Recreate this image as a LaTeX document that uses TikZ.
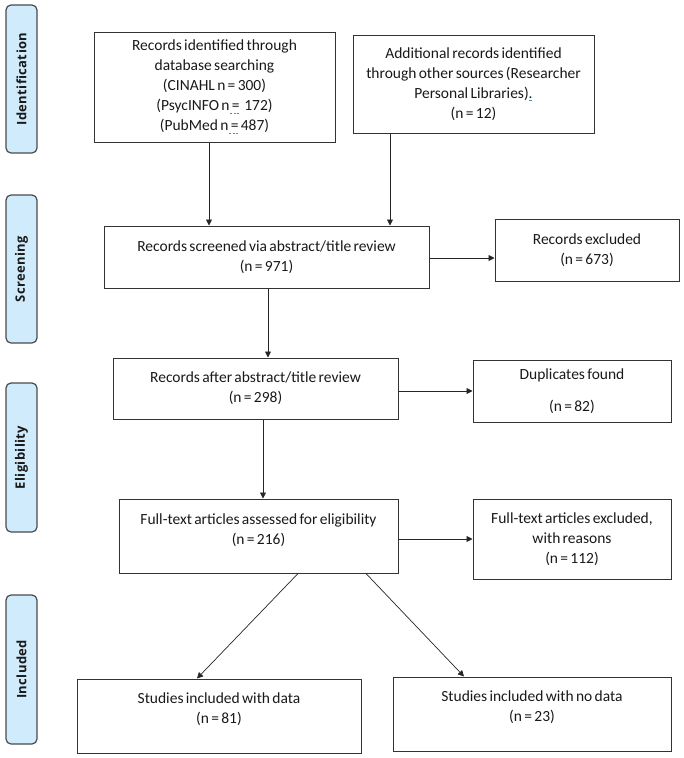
\documentclass[tikz,border=0pt]{standalone}
\usepackage{fontspec}
\setmainfont{Carlito}
\newfontfamily\labfont[LetterSpace=3]{Open Sans Bold}
\usetikzlibrary{arrows.meta}
\definecolor{labfill}{HTML}{CFEBFC}
\definecolor{labdraw}{HTML}{4A4A4A}
\definecolor{boxdraw}{HTML}{333333}
\definecolor{sqcol}{HTML}{2F9AC0}
\newcommand\boxfnt{\fontsize{15.5}{20}\selectfont\spaceskip=0.15em plus 0.04em minus 0.02em\relax}
\newsavebox\sqbox
\newlength\sqlen
\newcommand\sq[1]{\sbox\sqbox{#1}\setlength\sqlen{\wd\sqbox}\rlap{\color{sqcol}\raisebox{-3pt}{\leaders\hbox to 3.5pt{\hss\rule{2.2pt}{1pt}\hss}\hskip\sqlen}}\usebox\sqbox}
\tikzset{
  stage/.style={draw=labdraw, line width=1.2pt, fill=labfill, rounded corners=5pt, inner sep=0pt},
  stagetext/.style={rotate=90, font=\labfont\fontsize{13}{15}\selectfont, text=black!90},
  box/.style={draw=boxdraw, line width=1pt, align=center, inner sep=0pt, font=\boxfnt, text=black!90},
  arr/.style={draw=black!85, line width=0.9pt, -{Triangle[length=6pt,width=6pt]}},
}
\begin{document}
\begin{tikzpicture}[x=1pt,y=-1pt]
\useasboundingbox (0,0) rectangle (684,758);
% stage labels
\draw[stage] (6,5) rectangle (37,153);
\node[stagetext] (s1) at (21.5,79) {Identification};
\draw[stage] (6,195) rectangle (37,343);
\node[stagetext] (s2) at (21.5,269) {Screening};
\draw[stage] (6,383) rectangle (37,532);
\node[stagetext] (s3) at (21.5,457.5) {Eligibility};
\draw[stage] (6,595) rectangle (37,744);
\node[stagetext] (s4) at (21.5,669.5) {Included};
% boxes
\node[box, minimum width=241pt, minimum height=110pt] (b1) at (214.5,87)
  {Records identified through\\database searching\\(CINAHL n = 300)\\(PsycINFO n\sq{\ =\ }\ 172)\\(PubMed n\sq{\ =\ }487)};
\node[box, minimum width=241pt, minimum height=98pt] (b2) at (473.5,84)
  {Additional records identified\\through other sources\sq{\ }(Researcher\\Personal Libraries)\sq{.}\\(n = 12)};
\node[box, minimum width=325pt, minimum height=62pt] (b3) at (266.5,257)
  {Records screened via abstract/title review\\(n = 971)};
\node[box, minimum width=184pt, minimum height=62pt] (b4) at (587,250)
  {Records excluded\\(n = 673)};
\node[box, minimum width=285pt, minimum height=61pt] (b5) at (255.5,388.5)
  {Records after abstract/title review\\(n = 298)};
\node[box, minimum width=198pt, minimum height=62pt] (b6) at (572,391)
  {Duplicates found\\[12pt](n = 82)};
\node[box, minimum width=279pt, minimum height=74pt] (b7) at (258.5,536)
  {Full-text articles assessed for eligibility\\(n = 216)\\[-7pt]\mbox{}};
\node[box, minimum width=198pt, minimum height=80pt] (b8) at (572,539)
  {Full-text articles excluded,\\with reasons\\(n = 112)};
\node[box, minimum width=284pt, minimum height=74pt] (b9) at (219,716)
  {Studies included with data\\(n = 81)\\[-4pt]\mbox{}};
\node[box, minimum width=278pt, minimum height=74pt] (b10) at (532,714)
  {Studies included with no data\\(n = 23)\\[-4pt]\mbox{}};
% connector guides
\coordinate (g1) at (209,0);
\coordinate (g2) at (390,0);
\coordinate (g3) at (268,0);
\coordinate (g5) at (263,0);
\coordinate (h3) at (0,258);
\coordinate (h5) at (0,391);
\coordinate (h7) at (0,539);
\coordinate (d1s) at (298,573);
\coordinate (d1e) at (197,679);
\coordinate (d2s) at (366,573);
\coordinate (d2e) at (464,677);
% connectors
\draw[arr] (b1.south -| g1) -- (b3.north -| g1);
\draw[arr] (b2.south -| g2) -- (b3.north -| g2);
\draw[arr] (b3.east |- h3) -- (b4.west |- h3);
\draw[arr] (b3.south -| g3) -- (b5.north -| g3);
\draw[arr] (b5.east |- h5) -- (b6.west |- h5);
\draw[arr] (b5.south -| g5) -- (b7.north -| g5);
\draw[arr] (b7.east |- h7) -- (b8.west |- h7);
\draw[arr, line width=0.7pt] (b7.south -| d1s) -- (b9.north -| d1e);
\draw[arr, line width=0.7pt] (b7.south -| d2s) -- (b10.north -| d2e);
\end{tikzpicture}
\end{document}
